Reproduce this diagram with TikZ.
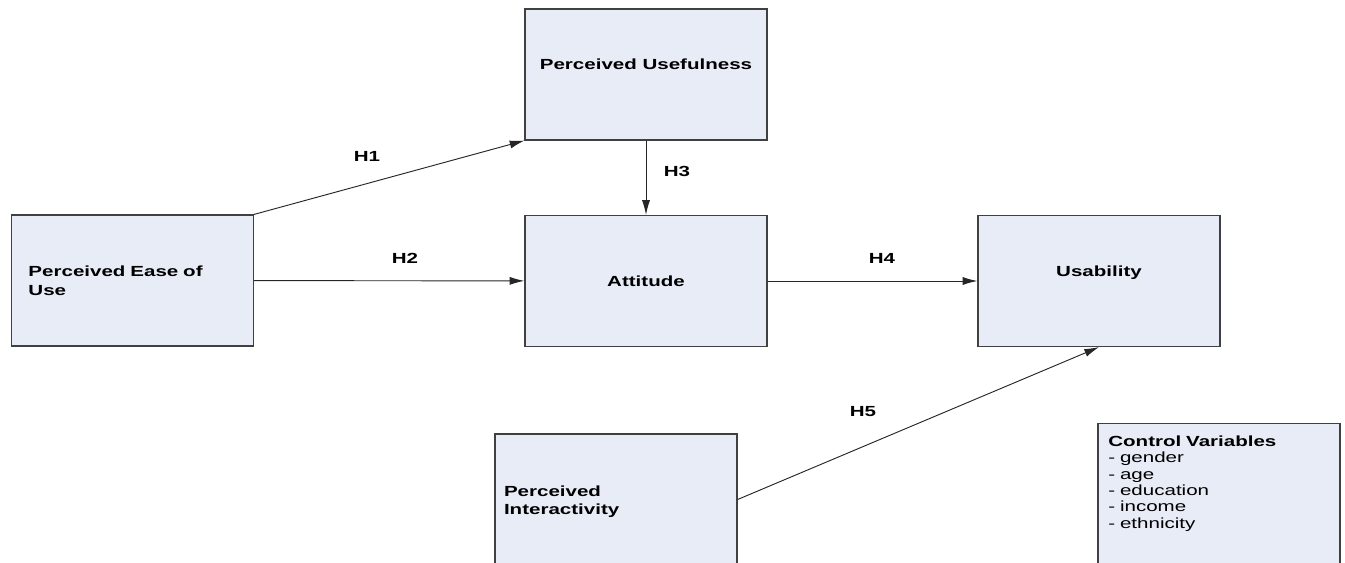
\documentclass[tikz,border=0pt]{standalone}
\usepackage{fontspec}
\setmainfont{Liberation Sans}[FakeStretch=1.4]
\usepackage{tikz}
\usetikzlibrary{arrows.meta, positioning}
\definecolor{boxfill}{RGB}{231,236,247}
\definecolor{boxline}{RGB}{64,64,64}
\tikzset{
    construct/.style={rectangle, draw=boxline, fill=boxfill, line width=0.9pt, minimum width=181.5pt, minimum height=98.25pt, inner sep=0pt, font=\fontsize{11}{14}\selectfont\bfseries},
    hyp/.style={font=\fontsize{11}{14}\selectfont\bfseries, inner sep=0pt},
    link/.style={draw=black!85, line width=0.7pt, -{Latex[length=11pt, width=6pt]}},
    ctrlbox/.style={rectangle, draw=boxline, fill=boxfill, line width=0.9pt, minimum width=181.5pt, inner xsep=7.5pt, inner ysep=9pt, font=\fontsize{11}{12.3}\selectfont, align=left, text width=166pt}
}
\begin{document}
\begin{tikzpicture}[x=0.75pt, y=-0.75pt]
  \useasboundingbox (0,0) rectangle (1345,563);
  \clip (0,0) rectangle (1345,563);
  \fill[white] (0,0) rectangle (1345,563);
  \node[construct, text depth=15pt] (pu) at (646, 74.5) {Perceived Usefulness};
  \node[construct, align=left, text width=156pt] (peu) at (132.5, 280.5) {Perceived Ease of\\Use};
  \node[construct] (att) at (646, 281) {Attitude};
  \node[construct, text depth=15pt] (use) at (1099, 281) {Usability};
  \node[construct, align=left, text width=168pt, text depth=13pt] (pi) at (616, 499.5) {Perceived\\Interactivity};
  \node[ctrlbox, anchor=north] (cv) at (1219, 423) {\textbf{Control Variables}\\- gender\\- age\\- education\\- income\\- ethnicity\\[40pt]~};
  % hypotheses
  \draw[link] (peu.north east) -- (pu.south west);
  \draw[link] (peu) -- (att);
  \draw[link] (pu) -- (att);
  \draw[link] (att) -- (use);
  \draw[link] (pi.east) -- (use.south);
  \node[hyp] (h1) at (367, 156) {H1};
  \node[hyp] (h2) at (405, 258) {H2};
  \node[hyp] (h3) at (677, 171) {H3};
  \node[hyp] (h4) at (882, 258) {H4};
  \node[hyp] (h5) at (863, 412) {H5};
\end{tikzpicture}
\end{document}
